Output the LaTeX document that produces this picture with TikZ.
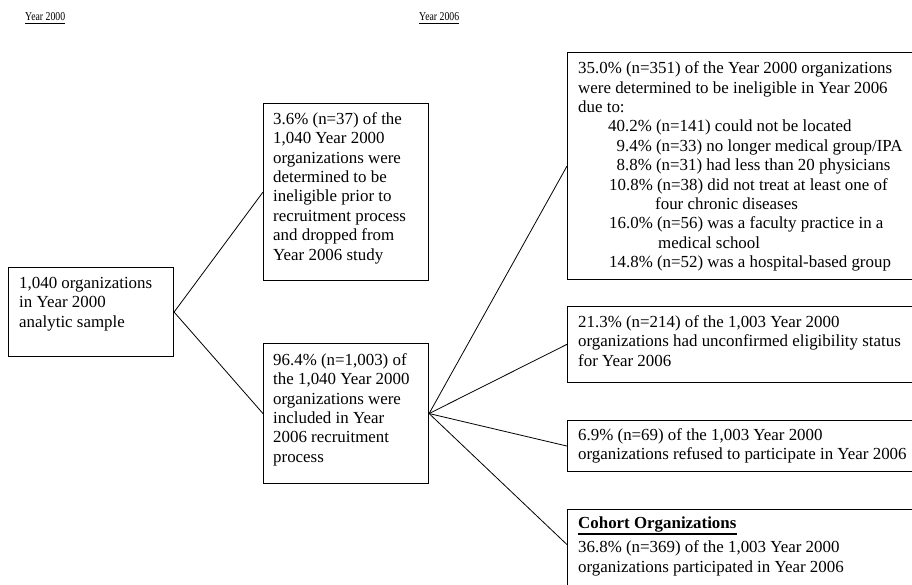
\documentclass[tikz,border=0pt]{standalone}
\usepackage{fontspec}
\usepackage{graphicx}
\setmainfont{Liberation Serif}
\usetikzlibrary{calc}
\newcommand\firststrut{\rule{0pt}{13pt}}
\begin{document}
\begin{tikzpicture}[x=1pt,y=-1pt,
  box/.style={draw=black, line width=1.1pt, rectangle, inner sep=0pt, anchor=north west},
  txt/.style={inner sep=0pt, anchor=north west, align=left, font=\fontsize{16.9}{19.4}\selectfont},
  conn/.style={draw=black, line width=0.8pt},
  yearlbl/.style={inner sep=0pt, anchor=base west, font=\fontsize{12}{14}\selectfont},
  uline/.style={draw=black, line width=0.6pt}]
\useasboundingbox (0,0) rectangle (912,584);
\clip (0,0) rectangle (912,584);

% year labels
\node[yearlbl] (y0) at (25,20.5) {\scalebox{0.815}[1]{Year 2000}};
\draw[uline] ($(y0.base west)+(0,2.3)$) -- ($(y0.base east)+(0,2.3)$);
\node[yearlbl] (y6) at (419,20.5) {\scalebox{0.815}[1]{Year 2006}};
\draw[uline] ($(y6.base west)+(0,2.3)$) -- ($(y6.base east)+(0,2.3)$);

% boxes
\node[box, minimum width=165pt, minimum height=89pt] (L) at (8,267) {};
\node[box, minimum width=165pt, minimum height=177pt] (M1) at (263,103) {};
\node[box, minimum width=165pt, minimum height=140pt] (M2) at (263,343) {};
\node[box, minimum width=350pt, minimum height=227pt] (R1) at (567,52) {};
\node[box, minimum width=350pt, minimum height=76.5pt] (R2) at (567,305.5) {};
\node[box, minimum width=350pt, minimum height=51pt] (R3) at (567,420) {};
\node[box, minimum width=350pt, minimum height=78pt] (R4) at (567,509) {};

% texts
\node[txt] (tL) at (19,275) {\firststrut 1,040 organizations\\in Year 2000\\analytic sample};
\node[txt] (tM1) at (273,111) {\firststrut 3.6\% (n=37) of the\\1,040 Year 2000\\organizations were\\determined to be\\ineligible prior to\\recruitment process\\and dropped from\\Year 2006 study};
\node[txt] (tM2) at (273,352) {\firststrut 96.4\% (n=1,003) of\\the 1,040 Year 2000\\organizations were\\included in Year\\2006 recruitment\\process};
\node[txt] (tR1) at (578,60.5) {\firststrut 35.0\% (n=351) of the Year 2000 organizations\\
were determined to be ineligible in Year 2006\\
due to:\\
\hspace*{30pt}40.2\% (n=141) could not be located\\
\hspace*{30pt}\phantom{4}9.4\% (n=33) no longer medical group/IPA\\
\hspace*{30pt}\phantom{4}8.8\% (n=31) had less than 20 physicians\\
\hspace*{31pt}10.8\% (n=38) did not treat at least one of\\
\hspace*{77pt}four chronic diseases\\
\hspace*{31pt}16.0\% (n=56) was a faculty practice in a\\
\hspace*{80pt}medical school\\
\hspace*{31pt}14.8\% (n=52) was a hospital-based group};
\node[txt] (tR2) at (578,314) {\firststrut 21.3\% (n=214) of the 1,003 Year 2000\\organizations had unconfirmed eligibility status\\for Year 2006};
\node[txt] (tR3) at (578,427) {\firststrut 6.9\% (n=69) of the 1,003 Year 2000\\organizations refused to participate in Year 2006};
\node[inner sep=0pt, anchor=base west, font=\fontsize{16.9}{19.4}\selectfont\bfseries] (coh) at (578,528) {Cohort Organizations};
\draw[draw=black, line width=1.6pt] ($(coh.base west)+(0,6)$) -- ($(coh.base east)+(0,6)$);
\node[txt] (tR4) at (578,539.5) {\firststrut 36.8\% (n=369) of the 1,003 Year 2000\\organizations participated in Year 2006};

% connectors
\draw[conn] (L.east) -- (M1.west);
\draw[conn] (L.east) -- (M2.west);
\draw[conn] (M2.east) -- (R1.west);
\draw[conn] (M2.east) -- (R2.west);
\draw[conn] (M2.east) -- (R3.west);
\draw[conn] (M2.east) -- ($(R4.north west)!0.45!(R4.south west)$);
\end{tikzpicture}
\end{document}
